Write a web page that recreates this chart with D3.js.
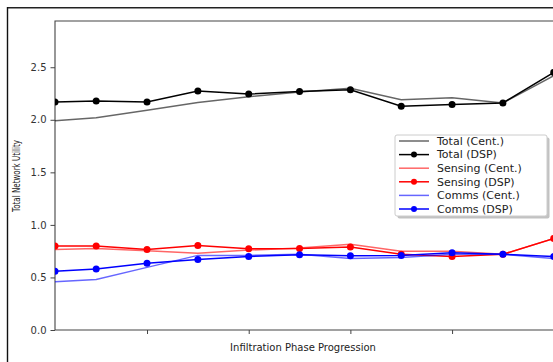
<!DOCTYPE html>
<html>
<head>
<meta charset="utf-8">
<script src="https://cdn.jsdelivr.net/npm/d3@7"></script>
<style>
  html, body { margin: 0; padding: 0; background: #fff; overflow: hidden; }
  svg { display: block; font-family: "DejaVu Sans", sans-serif; }
</style>
</head>
<body>
<div id="chart"></div>
<script>
// phase positions (first point sits right on the left spine)
const phases = [0.19, 1, 2, 3, 4, 5, 6, 7, 8, 9, 10];
const xTicks = [2, 4, 6, 8];
const yTicks = [0, 0.5, 1.0, 1.5, 2.0, 2.5];

const totalCent = [1.99, 2.02, 2.09, 2.165, 2.22, 2.265, 2.30, 2.19, 2.21, 2.16, 2.42];
const totalDsp = [2.17, 2.18, 2.17, 2.275, 2.245, 2.27, 2.285, 2.13, 2.145, 2.16, 2.45];
const sensingCent = [0.765, 0.775, 0.755, 0.73, 0.76, 0.78, 0.815, 0.75, 0.75, 0.72, 0.87];
const sensingDsp = [0.80, 0.80, 0.767, 0.805, 0.773, 0.775, 0.79, 0.72, 0.70, 0.72, 0.87];
const commsCent = [0.46, 0.48, 0.596, 0.71, 0.71, 0.72, 0.68, 0.69, 0.72, 0.72, 0.68];
const commsDsp = [0.56, 0.58, 0.634, 0.67, 0.70, 0.716, 0.706, 0.71, 0.735, 0.72, 0.70];

const series = [
  { name: 'Total (Cent.)', values: totalCent, color: '#000', alpha: 0.6, marker: false },
  { name: 'Total (DSP)', values: totalDsp, color: '#000', alpha: 1, marker: true },
  { name: 'Sensing (Cent.)', values: sensingCent, color: '#ff0000', alpha: 0.6, marker: false },
  { name: 'Sensing (DSP)', values: sensingDsp, color: '#ff0000', alpha: 1, marker: true },
  { name: 'Comms (Cent.)', values: commsCent, color: '#0000ff', alpha: 0.6, marker: false },
  { name: 'Comms (DSP)', values: commsDsp, color: '#0000ff', alpha: 1, marker: true }
];

const W = 553, H = 362;
const mLeft = 55, mTop = 21, mBottom = 330, mRight = 569;

const svg = d3.select('#chart').append('svg').attr('width', W).attr('height', H);

// figure frame (top and left edges visible)
svg.append('line').attr('x1', 7.5).attr('x2', W).attr('y1', 7.7).attr('y2', 7.7)
  .attr('stroke', '#222').attr('stroke-width', 1.6);
svg.append('line').attr('x1', 7.5).attr('x2', 7.5).attr('y1', 7).attr('y2', H)
  .attr('stroke', '#111').attr('stroke-width', 1.4);

const x = d3.scaleLinear().domain([0.19, 10.3]).range([mLeft, mRight]);
const y = d3.scaleLinear().domain([0, 2.94]).range([mBottom, mTop]);

svg.append('defs').append('clipPath').attr('id', 'plot-clip')
  .append('rect').attr('x', mLeft).attr('y', mTop).attr('width', mRight - mLeft).attr('height', mBottom - mTop);

// axes
const styleAxis = (sel) => {
  sel.select('.domain').remove();
  sel.selectAll('line').attr('stroke', '#444');
  sel.selectAll('text').attr('fill', '#333').style('font-size', '10px').style('font-family', '"DejaVu Sans", sans-serif');
};
svg.append('g').attr('transform', `translate(0,${mBottom})`)
  .call(d3.axisBottom(x).tickValues(xTicks).tickSize(4).tickFormat(''))
  .call(styleAxis);
svg.append('g').attr('transform', `translate(${mLeft},0)`)
  .call(d3.axisLeft(y).tickValues(yTicks).tickSize(4.5).tickPadding(4).tickFormat(d3.format('.1f')))
  .call(styleAxis);

// spines: left, top, bottom (right edge runs off the picture)
svg.append('path')
  .attr('d', `M${mRight},${mTop}H${mLeft}V${mBottom}H${mRight}`)
  .attr('fill', 'none').attr('stroke', '#444').attr('stroke-width', 1.1);

// lines
const plot = svg.append('g').attr('clip-path', 'url(#plot-clip)');
const line = d3.line().x((d, i) => x(phases[i])).y((d) => y(d));
series.forEach((s) => {
  plot.append('path').datum(s.values)
    .attr('fill', 'none').attr('stroke', s.color).attr('stroke-opacity', s.alpha)
    .attr('stroke-width', 1.5).attr('d', line);
  if (s.marker) {
    plot.selectAll(null).data(s.values).enter().append('circle')
      .attr('cx', (d, i) => x(phases[i])).attr('cy', (d) => y(d))
      .attr('r', 3.5).attr('fill', s.color);
  }
});

// axis labels
svg.append('text').attr('x', 303).attr('y', 351).attr('text-anchor', 'middle')
  .attr('fill', '#222').style('font-size', '10px').text('Infiltration Phase Progression');
svg.append('text').attr('transform', 'translate(20,176) rotate(-90)').attr('text-anchor', 'middle')
  .attr('fill', '#222').style('font-size', '10px')
  .attr('textLength', 72).attr('lengthAdjust', 'spacingAndGlyphs')
  .text('Total Network Utility');

// legend
const lg = svg.append('g');
const lx = 395, ly = 135, lw = 152, lh = 81;
lg.append('rect').attr('x', lx + 2.5).attr('y', ly + 2.5).attr('width', lw).attr('height', lh)
  .attr('rx', 2).attr('fill', '#999').attr('opacity', 0.6);
lg.append('rect').attr('x', lx).attr('y', ly).attr('width', lw).attr('height', lh)
  .attr('rx', 2).attr('fill', '#fff').attr('stroke', '#ccc').attr('stroke-width', 1);
series.forEach((s, i) => {
  const yy = ly + 6 + i * 13.6;
  lg.append('line').attr('x1', lx + 4).attr('x2', lx + 34).attr('y1', yy).attr('y2', yy)
    .attr('stroke', s.color).attr('stroke-opacity', s.alpha).attr('stroke-width', 1.5);
  if (s.marker) {
    lg.append('circle').attr('cx', lx + 19).attr('cy', yy).attr('r', 3).attr('fill', s.color);
  }
  lg.append('text').attr('x', lx + 42).attr('y', yy).attr('dy', '0.35em')
    .attr('fill', '#222').style('font-size', '11px').text(s.name);
});
</script>
</body>
</html>
